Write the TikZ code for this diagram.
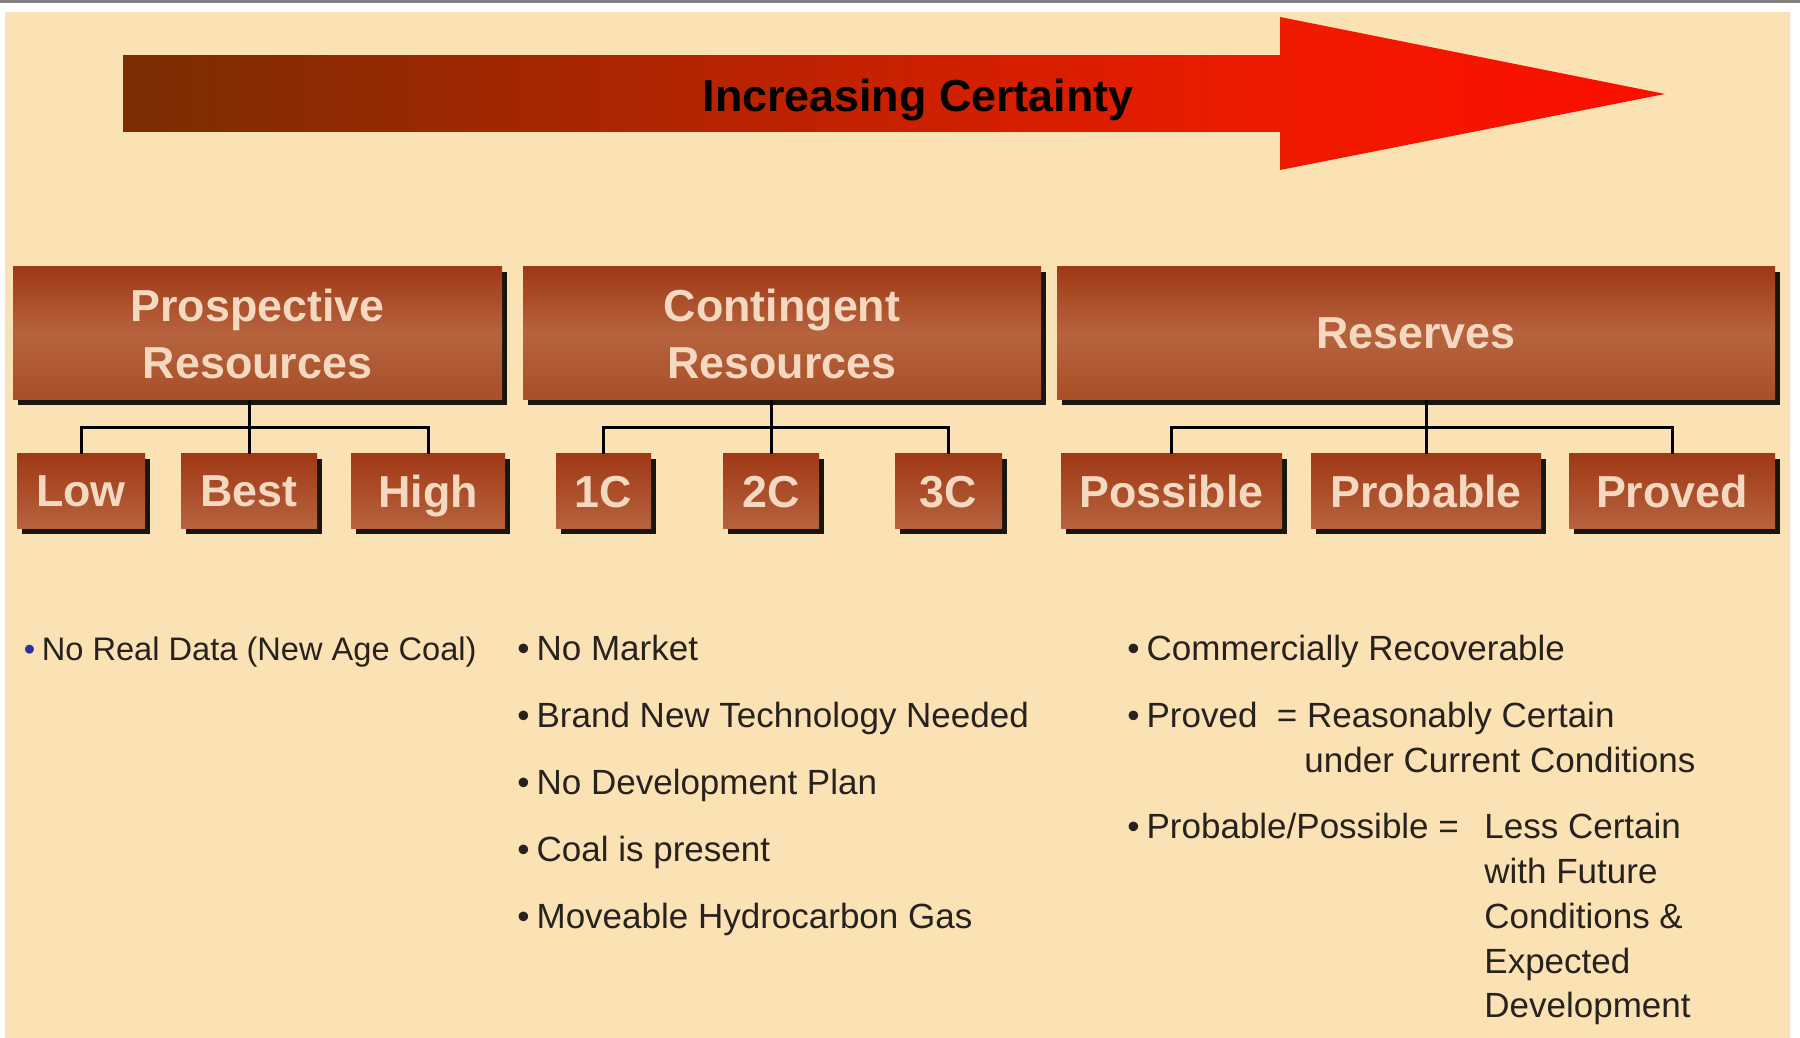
\documentclass[tikz,border=0pt]{standalone}
\usepackage{fontspec}
\setmainfont{Liberation Sans}
\usetikzlibrary{shadows, calc, positioning}
\definecolor{slidebeige}{rgb}{0.980, 0.886, 0.710}
\definecolor{framegray}{rgb}{0.5, 0.5, 0.5}
\definecolor{arrowbrown}{rgb}{0.478, 0.180, 0.008}
\definecolor{arrowred}{rgb}{0.941, 0.102, 0}
\definecolor{tipred}{rgb}{0.985, 0.055, 0}
\definecolor{boxtop}{rgb}{0.627, 0.220, 0.086}
\definecolor{boxmid}{rgb}{0.714, 0.392, 0.243}
\definecolor{boxbottom}{rgb}{0.659, 0.306, 0.157}
\definecolor{boxtext}{rgb}{0.957, 0.847, 0.753}
\definecolor{notetext}{rgb}{0.157, 0.133, 0.118}
\definecolor{bulletblue}{rgb}{0.157, 0.196, 0.627}

\begin{document}
\begin{tikzpicture}[x=0.5pt, y=0.5pt,
    headbox/.style={inner sep=0pt, align=center, text=boxtext, text depth=0pt,
        font=\fontsize{22.4}{28.5}\selectfont\bfseries, minimum height=66.5pt,
        top color=boxtop, bottom color=boxbottom, middle color=boxmid,
        drop shadow={shadow xshift=2.5pt, shadow yshift=-2.5pt, fill=black, opacity=0.9}},
    levelbox/.style={inner sep=0pt, text=boxtext, text depth=0pt,
        font=\fontsize{22.4}{28.5}\selectfont\bfseries, minimum height=37.5pt,
        top color=boxtop, bottom color=boxmid,
        drop shadow={shadow xshift=2.5pt, shadow yshift=-2.5pt, fill=black, opacity=0.9}},
    link/.style={draw=black, line width=1.5pt},
    note/.style={anchor=base west, inner sep=0pt, align=left, text=notetext,
        font=\fontsize{17.5}{22.4}\selectfont}]
    \useasboundingbox (0, 0) rectangle (1800, 1038);
    \fill[white] (0, 0) rectangle (1800, 1038);
    \fill[framegray] (0, 1035) rectangle (1800, 1038);
    \fill[slidebeige] (5, 0) rectangle (1790, 1026);

    % certainty arrow
    \shade[left color=arrowbrown, right color=arrowred] (123, 906) rectangle (1281, 982);
    \shade[left color=arrowred, right color=tipred] (1280, 1021) -- (1665, 944) -- (1280, 868) -- cycle;
    \node[anchor=base, font=\fontsize{22.4}{26}\selectfont\bfseries, text=black] (certainty) at (918, 926) {Increasing Certainty};

    \node[headbox, minimum width=244.5pt] (pros) at (257.5, 704.5) {Prospective\\Resources};
    \node[headbox, minimum width=259pt] (cont) at (782, 704.5) {Contingent\\Resources};
    \node[headbox, minimum width=359pt] (resv) at (1416, 704.5) {Reserves};

    \node[levelbox, minimum width=64pt] (low) at (81, 546.5) {Low};
    \node[levelbox, minimum width=68pt] (best) at (249, 546.5) {Best};
    \node[levelbox, minimum width=77pt] (high) at (428, 546.5) {High};
    \node[levelbox, minimum width=47.5pt] (c1) at (603.5, 546.5) {1C};
    \node[levelbox, minimum width=48pt] (c2) at (771, 546.5) {2C};
    \node[levelbox, minimum width=53.5pt] (c3) at (948.5, 546.5) {3C};
    \node[levelbox, minimum width=110.5pt] (poss) at (1171.5, 546.5) {Possible};
    \node[levelbox, minimum width=115pt] (prob) at (1426, 546.5) {Probable};
    \node[levelbox, minimum width=103pt] (prvd) at (1672, 546.5) {Proved};

    \draw[link] (pros.south -| best.north) -- (best.north);
    \draw[link] (low.north) -- ++(0, 26) -| (high.north);
    \draw[link] (cont.south -| c2.north) -- (c2.north);
    \draw[link] (c1.north) -- ++(0, 26) -| (c3.north);
    \draw[link] (resv.south -| prob.north) -- (prob.north);
    \draw[link] (poss.north) -- ++(0, 26) -| (prvd.north);

    % notes under each group
    \node[note, font=\fontsize{16.3}{20}\selectfont] (nodata) at (23.5, 377) {{\color{bulletblue}•}\hspace{0.2em}No Real Data (New Age Coal)};

    \node[note] (nomarket) at (517, 377) {•\hspace{0.2em}No Market};
    \node[note] (newtech) at (517, 310) {•\hspace{0.2em}Brand New Technology Needed};
    \node[note] (noplan) at (517, 243) {•\hspace{0.2em}No Development Plan};
    \node[note] (coal) at (517, 176) {•\hspace{0.2em}Coal is present};
    \node[note] (gas) at (517, 109) {•\hspace{0.2em}Moveable Hydrocarbon Gas};

    \node[note] (recov) at (1127, 377) {•\hspace{0.2em}Commercially Recoverable};
    \node[note] (proved) at (1127, 310) {•\hspace{0.2em}Proved\ \ = Reasonably Certain};
    \node[note] (current) at (1304, 265) {under Current Conditions};
    \node[note] (probposs) at (1127, 199) {•\hspace{0.2em}Probable/Possible =};
    \node[note] (lesscert) at (1484, 20) {Less Certain\\with Future\\Conditions \&\\Expected\\Development};
\end{tikzpicture}
\end{document}
